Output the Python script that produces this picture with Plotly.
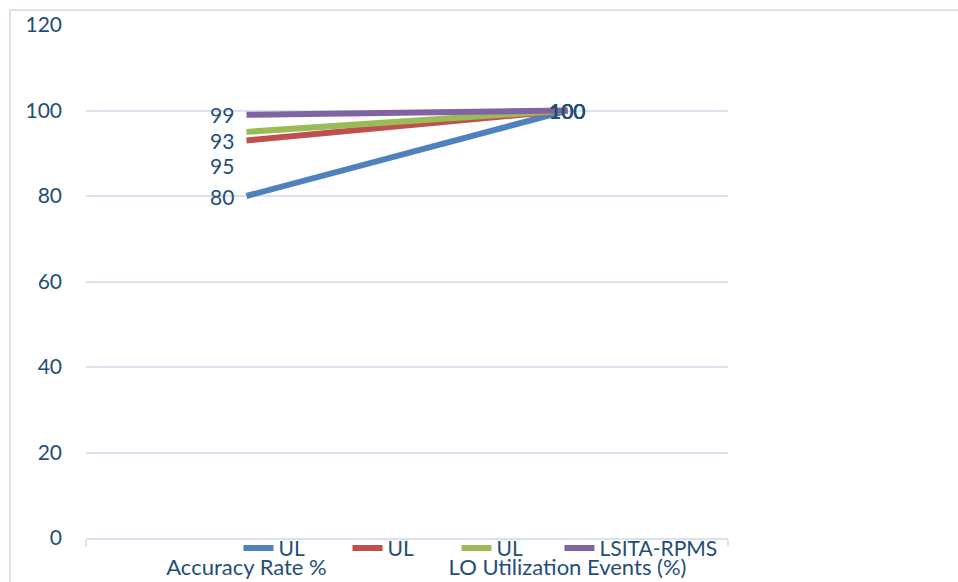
import plotly.graph_objects as go

# Categories on the x axis
categories = ["Accuracy Rate %", "LO Utilization Events (%)"]

# Series values
series_names = ["UL", "UL", "UL", "LSITA-RPMS"]
ul_a = [80, 100]
ul_b = [93, 100]
ul_c = [95, 100]
lsita_rpms = [99, 100]
series_values = [ul_a, ul_b, ul_c, lsita_rpms]

# Y axis ticks
y_ticks = [0, 20, 40, 60, 80, 100, 120]

colors = ["#4F81BD", "#C0504D", "#9BBB59", "#8064A2"]
# which legend box each series goes into (the long name gets its own box)
legend_refs = ["legend", "legend", "legend", "legend2"]
# vertical nudge (px) of the left-hand value labels so they don't collide
left_label_shift = [0, 0, -34, 0]

TEXT = "#1F4E79"
GRID = "#D9E2F1"
FONT = "Lato"
FS = 21

fig = go.Figure()
for name, vals, col, lg in zip(series_names, series_values, colors, legend_refs):
    fig.add_trace(go.Scatter(
        x=categories, y=vals, name=name, mode="lines",
        line=dict(color=col, width=6), legend=lg,
    ))

annotations = []
for vals, shift in zip(series_values, left_label_shift):
    annotations.append(dict(
        x=categories[0], y=vals[0], xref="x", yref="y", text=str(vals[0]),
        showarrow=False, xanchor="right", yanchor="middle",
        xshift=-11, yshift=shift, font=dict(family=FONT, size=FS, color=TEXT),
    ))
    annotations.append(dict(
        x=categories[1], y=vals[1], xref="x", yref="y", text=str(vals[1]),
        showarrow=False, xanchor="center", yanchor="middle",
        font=dict(family=FONT, size=FS, color=TEXT),
    ))

legend_common = dict(
    orientation="h", y=-0.02, xanchor="left", yanchor="middle",
    font=dict(family=FONT, size=FS, color=TEXT),
    bgcolor="rgba(0,0,0,0)", tracegroupgap=0,
)

fig.update_layout(
    width=958, height=582,
    margin=dict(l=86, r=230, t=25, b=44, autoexpand=False),
    paper_bgcolor="white", plot_bgcolor="white",
    font=dict(family=FONT, size=FS, color=TEXT),
    showlegend=True,
    legend=dict(x=0.2375, entrywidth=64, entrywidthmode="pixels", **legend_common),
    legend2=dict(x=0.7375, **legend_common),
    xaxis=dict(
        type="category", range=[-0.5, 1.5], showgrid=False,
        showline=True, linecolor=GRID, linewidth=2,
        ticks="outside", tickson="boundaries", ticklen=7, tickcolor=GRID,
        tickwidth=2, ticklabelstandoff=9, automargin=False,
        tickfont=dict(family=FONT, size=22, color=TEXT),
        zeroline=False, fixedrange=True,
    ),
    yaxis=dict(
        range=[0, 120], tickvals=y_ticks, showgrid=True, gridcolor=GRID,
        gridwidth=2, showline=False, zeroline=False, ticks="",
        ticklabelstandoff=23, automargin=False,
        tickfont=dict(family=FONT, size=FS, color=TEXT),
    ),
    annotations=annotations,
    shapes=[dict(
        type="rect", xref="paper", yref="paper",
        x0=-0.1184, x1=1.6, y0=-0.3, y1=1.029,
        line=dict(color=GRID, width=2), fillcolor="rgba(0,0,0,0)", layer="below",
    )],
)

fig.write_html("out.html")
